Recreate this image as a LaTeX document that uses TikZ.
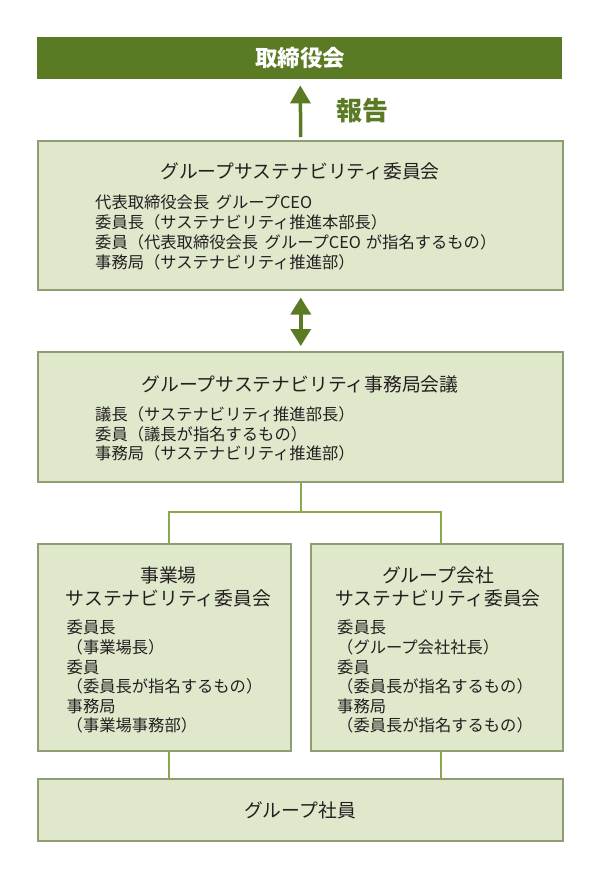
\documentclass[tikz,border=0pt]{standalone}
\usepackage{fontspec}
\setmainfont{Noto Sans CJK JP}
\usetikzlibrary{arrows.meta}
\definecolor{darkgreen}{HTML}{5A7A24}
\definecolor{boxfill}{HTML}{E0E8CC}
\definecolor{boxborder}{HTML}{8F9E72}
\definecolor{linegreen}{HTML}{8AA94C}
\definecolor{txt}{HTML}{231F20}
\tikzset{
  box/.style={draw=boxborder, line width=1.5pt, fill=boxfill, inner sep=0pt, anchor=north west},
  conn/.style={draw=linegreen, line width=2pt},
  bigarrow/.style={draw=darkgreen, fill=darkgreen, line width=3.5pt},
  ttl/.style={font=\fontsize{18.8}{22}\selectfont, text=txt, inner sep=0pt, anchor=base},
  body/.style={font=\fontsize{16.3}{20}\selectfont, text=txt, inner sep=0pt, anchor=base west},
}
\begin{document}
\begin{tikzpicture}[x=1pt,y=-1pt]
\useasboundingbox (0,0) rectangle (600,875);
% boxes
\node[fill=darkgreen, inner sep=0pt, anchor=north west, minimum width=525pt, minimum height=42pt] (board) at (37,37) {};
\node[box, minimum width=525pt, minimum height=149pt] (com) at (37,140) {};
\node[box, minimum width=525pt, minimum height=130pt] (sec) at (37,351) {};
\node[box, minimum width=253pt, minimum height=207pt] (site) at (37,543) {};
\node[box, minimum width=252pt, minimum height=207pt] (grp) at (310,543) {};
\node[box, minimum width=525pt, minimum height=62pt] (emp) at (37,778) {};
% texts
\node[font=\fontsize{22.5}{26}\selectfont\bfseries, text=white, inner sep=0pt, anchor=base] (boardt) at (300,66.5) {取締役会};
\node[font=\fontsize{26}{30}\selectfont\bfseries, text=darkgreen, inner sep=0pt, anchor=base] (rep) at (362,120) {報告};
\node[ttl] (comt) at (300,178.8) {グループサステナビリティ委員会};
\node[body] (c1) at (95,208) {代表取締役会長\hspace{0.4em}グループCEO};
\node[body] (c2) at (95,228) {委員長（サステナビリティ推進本部長）};
\node[body] (c3) at (95,248) {委員（代表取締役会長\hspace{0.4em}グループCEO\hspace{0.3em}が指名するもの）};
\node[body] (c4) at (95,268) {事務局（サステナビリティ推進部）};
\node[ttl] (sect) at (300,391) {グループサステナビリティ事務局会議};
\node[body] (s1) at (95,420.5) {議長（サステナビリティ推進部長）};
\node[body] (s2) at (95,440) {委員（議長が指名するもの）};
\node[body] (s3) at (95,459.5) {事務局（サステナビリティ推進部）};
\node[ttl] (sitet1) at (168.5,582) {事業場};
\node[ttl] (sitet2) at (168.5,605) {サステナビリティ委員会};
\node[body] (p1) at (66.5,633.5) {委員長};
\node[body] (p2) at (66.5,653) {（事業場長）};
\node[body] (p3) at (66.5,673) {委員};
\node[body] (p4) at (66.5,692.5) {（委員長が指名するもの）};
\node[body] (p5) at (66.5,712) {事務局};
\node[body] (p6) at (66.5,731) {（事業場事務部）};
\node[ttl] (grpt1) at (438,582) {グループ会社};
\node[ttl] (grpt2) at (438,605) {サステナビリティ委員会};
\node[body] (q1) at (337,633.5) {委員長};
\node[body] (q2) at (337,653) {（グループ会社社長）};
\node[body] (q3) at (337,673) {委員};
\node[body] (q4) at (337,692.5) {（委員長が指名するもの）};
\node[body] (q5) at (337,712) {事務局};
\node[body] (q6) at (337,731) {（委員長が指名するもの）};
\node[ttl] (empt) at (300,817.5) {グループ社員};
% arrows
\draw[bigarrow, -{Triangle[width=20pt,length=18pt]}, shorten <=3pt, shorten >=6pt] ([xshift=0.5pt]com.north) -- ([xshift=0.5pt]board.south);
\draw[bigarrow, {Triangle[width=20pt,length=17pt]}-{Triangle[width=20pt,length=17pt]}, shorten <=7pt, shorten >=5pt] ([xshift=0.5pt]com.south) -- ([xshift=0.5pt]sec.north);
% connectors
\coordinate (busL) at (169,512);
\coordinate (busR) at (441,512);
\draw[conn] ([xshift=0.5pt]sec.south) -- ([xshift=0.5pt]sec.south |- busL);
\draw[conn] (site.north -| busL) |- (busR) -- (grp.north -| busR);
\draw[conn] (site.south -| busL) -- (emp.north -| busL);
\draw[conn] (grp.south -| busR) -- (emp.north -| busR);
\end{tikzpicture}
\end{document}
